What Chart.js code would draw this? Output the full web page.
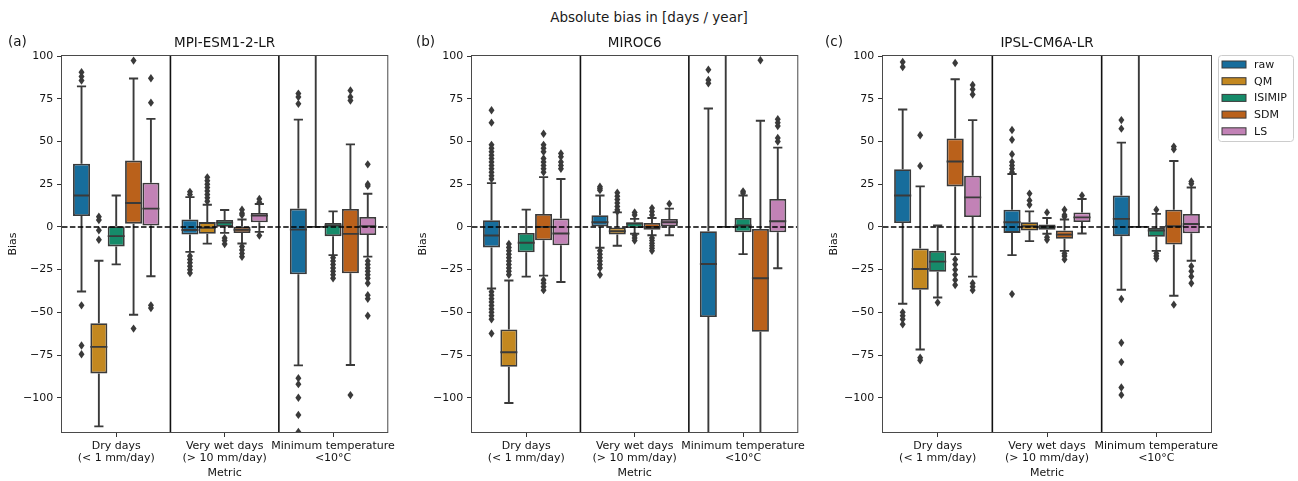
<!DOCTYPE html>
<html lang="en">
<head>
<meta charset="UTF-8">
<title>Absolute bias in [days / year]</title>
<script src="https://cdn.jsdelivr.net/npm/chart.js"></script>
<style>
  body {
    margin: 0;
    background: #ffffff;
    width: 1298px;
    height: 481px;
    position: relative;
    overflow: hidden;
    font-family: 'DejaVu Sans', sans-serif;
  }
  .suptitle {
    position: absolute;
    left: 0;
    top: 9px;
    width: 1298px;
    text-align: center;
    font-size: 13.5px;
    line-height: 16px;
    color: #1a1a1a;
  }
  .panel {
    position: absolute;
    top: 0;
    height: 481px;
  }
</style>
</head>
<body>
<div class="suptitle">Absolute bias in [days / year]</div>
<div class="panel" style="left:0px"><canvas id="panelA" width="400" height="481"></canvas></div>
<div class="panel" style="left:410px"><canvas id="panelB" width="400" height="481"></canvas></div>
<div class="panel" style="left:821px"><canvas id="panelC" width="477" height="481"></canvas></div>

<script>
const methods = ['raw', 'QM', 'ISIMIP', 'SDM', 'LS'];
const metrics = [['Dry days', '(< 1 mm/day)'], ['Very wet days', '(> 10 mm/day)'], ['Minimum temperature', '<10°C']];
const models = ['MPI-ESM1-2-LR', 'MIROC6', 'IPSL-CM6A-LR'];
const tags = ['(a)', '(b)', '(c)'];
const methodColors = ['#176d9c', '#c38820', '#168b6a', '#ba611b', '#c282b6'];

// box stats per method (raw, QM, ISIMIP, SDM, LS), per metric:
// [lower whisker, q1, median, q3, upper whisker]
const mpiBoxes = [
  [[-37.8, 6.4, 18.4, 37, 82.2], [-14.6, -4.5, -1.8, 4.4, 17.4], [-81, -27.7, -1.6, 10.7, 62.8]],
  [[-116.7, -85.7, -70.2, -56.4, -19.8], [-9.8, -4, -0.5, 2.8, 13], [0, 0, 0, 0, 130]],
  [[-21.9, -11.4, -5.4, 0.4, 18.4], [-3.5, 0.1, 2.5, 4, 9.9], [-16.5, -5.4, 0.8, 2.3, 9.1]],
  [[-51.4, 1.9, 14, 38.8, 86.8], [-9.7, -3.6, -1.7, 0.1, 4.3], [-80.8, -27.1, -4.1, 10.5, 48.3]],
  [[-28.9, 0.8, 10.7, 25.8, 63.2], [-2.9, 2.7, 6.6, 8.1, 13.4], [-17.4, -4.7, 0.4, 5.8, 19.4]]
];
const mpiFliers = [
  [[90.5, 88, 85.7, -45.9, -69.4, -74.5], [20.5, 19, -17, -19, -21, -23, -25, -27], [78, 76, 72, -88.5, -92, -100, -110, -120]],
  [[6, 4, -2, -7.5], [29, 27, 25, 23, 21, 19, 17, 15], []],
  [[], [-6.5, -8, -10], [-18, -20, -22, -24, -26, -28, -30]],
  [[97.3, -59.5], [10, 8, 7, -11.5, -13.5, -15.5, -17.5], [79.8, 76, 74, -98.4]],
  [[87, 72.7, -45.9, -47.5], [16.3, 14.5, -5], [36.6, 25, 24, -20, -22, -24, -26, -28, -30, -33, -40, -42, -52]]
];

const mirocBoxes = [
  [[-36, -12, -5, 3.9, 25.6], [-12.2, 0, 2.7, 6.8, 18.4], [-130, -52.7, -21.7, -2.5, 69.3]],
  [[-103, -81.8, -73.3, -60, -31.4], [-11, -4.5, -2.5, 0, 8.5], [0, 0, 0, 0, 130]],
  [[-29.1, -14.9, -9.3, -3.5, 10.1], [-4, -0.6, 1.9, 2.7, 4.7], [-15.9, -3.1, 0.8, 5.2, 18.4]],
  [[-28.5, -7.8, 0, 7.6, 29.1], [-4.9, -1.6, 0, 2.3, 5.2], [-130, -61.4, -30, -1.2, 62.1]],
  [[-32.2, -10.7, -3.9, 4.9, 28], [-4.9, 0.4, 2.7, 4.7, 10.7], [-24.2, -3.1, 3.3, 16.3, 46.4]]
];
const mirocFliers = [
  [[68.3, 61, 48, 46, 44, 42, 40, 38, 36, 34, 32, 30, 28, -38, -40, -42, -44, -46, -48, -50, -52, -54, -62.4],
   [23.5, 22.5, 21.5, -14, -16, -18, -20, -22, -24, -28], [92, 86, 84]],
  [[-10, -12, -14, -16, -18, -20, -22, -24, -26, -28], [20, 18, 16, 14, 12, 10, 9], []],
  [[], [8.5, 7, -5, -6.5, -8], [20.8, 19.8]],
  [[54.5, 48, 46, 44, 40, 38, 36, 34, 32, -31, -33, -35, -37], [11, 9, 7, -6.5, -8, -9.5, -11, -12.5, -14], [97.5]],
  [[43, 41, 38, 36, 34], [13.5], [63, 61, 59, 52, 50]]
];

const ipslBoxes = [
  [[-45, 2.3, 18.4, 33.8, 68.7], [-16.5, -3.5, 2.7, 10.1, 31], [-36.8, -5.4, 4.7, 18.4, 49.3]],
  [[-71.7, -36.8, -24.6, -12.6, 23.7], [-8.3, -2.1, 0.4, 2.7, 9.1], [0, 0, 0, 0, 130]],
  [[-41.3, -26.2, -20.3, -14, 0.8], [-4, -1.6, 0, 1.4, 5.2], [-14, -5.8, -2.1, -0.6, 7.6]],
  [[-15.9, 23.7, 38.3, 51.8, 86.4], [-14, -7, -4.5, -2.1, 4.3], [-40.3, -10.3, 0.4, 10.1, 38.6]],
  [[-29.1, 5.8, 17.3, 29.9, 62.5], [-3.9, 2.9, 5.6, 8.5, 16.3], [-19.8, -3.7, 1.7, 7.6, 23.1]]
];
const ipslFliers = [
  [[96.5, 93.6, -50, -52, -54, -57], [56.7, 51, 42.5, 38, 36, 34, 32, -39.3], [62.5, 57.5, -42.2, -67.8, -79.1, -94, -98.3]],
  [[53.6, 35.7, -76.5, -78], [19.5, 15.5, 13], []],
  [[-44.2], [8.5, -6, -7.5], [10, -15.5, -17, -18.5]],
  [[95.9, -19, -22, -25, -28, -31, -34], [10, 7, 6, -15.5, -17, -19], [47, 45.4, -45.5]],
  [[83, 80.5, 77.5, -33, -35, -37], [18.4], [26.6, 25.2, -23, -26, -29, -33]]
];

const lineGray = '#3a3a3a';
const textColor = '#141414';
const fontFamily = "'DejaVu Sans', sans-serif";

Chart.defaults.font.family = fontFamily;
Chart.defaults.font.size = 11;
Chart.defaults.color = textColor;

// whiskers, medians, fliers, zero line, separators, frame, tag and legend
const boxExtras = {
  id: 'boxExtras',
  afterDatasetsDraw(chart) {
    const { ctx, chartArea: a, scales: { x, y } } = chart;
    ctx.save();
    ctx.beginPath();
    ctx.rect(a.left, a.top, a.right - a.left, a.bottom - a.top);
    ctx.clip();

    chart.data.datasets.forEach((ds, d) => {
      const meta = chart.getDatasetMeta(d);
      meta.data.forEach((bar, j) => {
        const [lo, q1, med, q3, hi] = ds.stats[j];
        const cx = bar.x;
        const hw = bar.width / 2;
        const cap = bar.width * 0.27;
        ctx.strokeStyle = lineGray;
        ctx.lineWidth = 1.9;
        ctx.beginPath();
        ctx.moveTo(cx, y.getPixelForValue(q3));
        ctx.lineTo(cx, y.getPixelForValue(hi));
        ctx.moveTo(cx, y.getPixelForValue(q1));
        ctx.lineTo(cx, y.getPixelForValue(lo));
        ctx.moveTo(cx - cap, y.getPixelForValue(hi));
        ctx.lineTo(cx + cap, y.getPixelForValue(hi));
        ctx.moveTo(cx - cap, y.getPixelForValue(lo));
        ctx.lineTo(cx + cap, y.getPixelForValue(lo));
        ctx.moveTo(cx - hw, y.getPixelForValue(med));
        ctx.lineTo(cx + hw, y.getPixelForValue(med));
        ctx.stroke();

        ctx.fillStyle = lineGray;
        ds.fliers[j].forEach(v => {
          const py = y.getPixelForValue(v);
          ctx.beginPath();
          ctx.moveTo(cx, py - 4.2);
          ctx.lineTo(cx + 3, py);
          ctx.lineTo(cx, py + 4.2);
          ctx.lineTo(cx - 3, py);
          ctx.closePath();
          ctx.fill();
        });
      });
    });

    // dashed zero line
    const y0 = y.getPixelForValue(0);
    ctx.strokeStyle = '#000000';
    ctx.lineWidth = 1.5;
    ctx.setLineDash([5.5, 2.4]);
    ctx.beginPath();
    ctx.moveTo(a.left, y0);
    ctx.lineTo(a.right, y0);
    ctx.stroke();
    ctx.setLineDash([]);

    // separators between metrics
    ctx.strokeStyle = '#111111';
    ctx.lineWidth = 1.6;
    [0.5, 1.5].forEach(v => {
      const px = x.getPixelForValue(v);
      ctx.beginPath();
      ctx.moveTo(px, a.top);
      ctx.lineTo(px, a.bottom);
      ctx.stroke();
    });
    ctx.restore();
  },
  afterDraw(chart, args, opts) {
    const { ctx, chartArea: a } = chart;
    ctx.save();
    ctx.strokeStyle = '#4a4a4a';
    ctx.lineWidth = 1;
    ctx.strokeRect(a.left - 0.5, a.top - 0.5, a.right - a.left + 1, a.bottom - a.top + 1);

    ctx.fillStyle = textColor;
    ctx.font = '13.5px ' + fontFamily;
    ctx.textBaseline = 'alphabetic';
    ctx.textAlign = 'left';
    ctx.fillText(opts.tag, opts.tagX, 46);

    if (opts.legend) {
      const lx = a.right + 7;
      const ly = a.top - 1;
      ctx.fillStyle = '#ffffff';
      ctx.strokeStyle = '#cccccc';
      ctx.lineWidth = 1;
      ctx.beginPath();
      ctx.roundRect(lx + 0.5, ly + 0.5, 75, 86, 3);
      ctx.fill();
      ctx.stroke();
      ctx.font = '11px ' + fontFamily;
      ctx.textBaseline = 'middle';
      chart.data.datasets.forEach((ds, i) => {
        const cy = a.top + 8.5 + i * 16.7;
        ctx.fillStyle = ds.backgroundColor;
        ctx.fillRect(a.right + 11, cy - 3.5, 24, 7);
        ctx.strokeStyle = lineGray;
        ctx.strokeRect(a.right + 11, cy - 3.5, 24, 7);
        ctx.fillStyle = textColor;
        ctx.fillText(ds.label, a.right + 43, cy + 0.5);
      });
    }
    ctx.restore();
  }
};

function makePanel(canvasId, title, tag, tagX, boxes, fliers, padRight, legend) {
  const datasets = methods.map((m, i) => ({
    label: m,
    data: boxes[i].map(s => [s[1], s[3]]),
    stats: boxes[i],
    fliers: fliers[i],
    backgroundColor: methodColors[i],
    borderColor: lineGray,
    borderWidth: 1.8,
    borderSkipped: false,
    categoryPercentage: 0.8,
    barPercentage: 0.98
  }));

  return new Chart(document.getElementById(canvasId), {
    type: 'bar',
    data: { labels: metrics, datasets: datasets },
    plugins: [boxExtras],
    options: {
      responsive: false,
      animation: false,
      devicePixelRatio: 1,
      layout: { padding: { left: 0, right: padRight, top: 0, bottom: 0 } },
      plugins: {
        legend: { display: false },
        tooltip: { enabled: false },
        title: {
          display: true,
          text: title,
          fullSize: false,
          color: textColor,
          font: { size: 13.5, weight: 'normal' },
          padding: { top: 35.5, bottom: 4.3 }
        },
        boxExtras: { tag: tag, tagX: tagX, legend: legend }
      },
      scales: {
        x: {
          grid: {
            display: true,
            offset: false,
            drawOnChartArea: false,
            drawTicks: true,
            tickLength: 5,
            color: '#333333'
          },
          border: { display: false },
          ticks: {
            color: textColor,
            padding: 3,
            maxRotation: 0,
            autoSkip: false,
            font: { size: 11, lineHeight: 1.1 }
          },
          title: {
            display: true,
            text: 'Metric',
            color: textColor,
            font: { size: 11 },
            padding: { top: 0, bottom: 1.2 }
          },
          afterFit(scale) { scale.height = 49; }
        },
        y: {
          min: -120,
          max: 100,
          grid: {
            display: true,
            drawOnChartArea: false,
            drawTicks: true,
            tickLength: 5,
            color: '#333333'
          },
          border: { display: false },
          ticks: {
            stepSize: 25,
            includeBounds: false,
            color: textColor,
            padding: 3.7,
            font: { size: 11 },
            callback: v => String(v).replace('-', '\u2212')
          },
          title: {
            display: true,
            text: 'Bias',
            color: textColor,
            font: { size: 11 },
            padding: { top: 7, bottom: 0 }
          },
          afterFit(scale) { scale.width = 62; }
        }
      }
    }
  });
}

makePanel('panelA', models[0], tags[0], 8, mpiBoxes, mpiFliers, 10, false);
makePanel('panelB', models[1], tags[1], 6, mirocBoxes, mirocFliers, 10, false);
makePanel('panelC', models[2], tags[2], 4, ipslBoxes, ipslFliers, 87, true);
</script>
</body>
</html>
